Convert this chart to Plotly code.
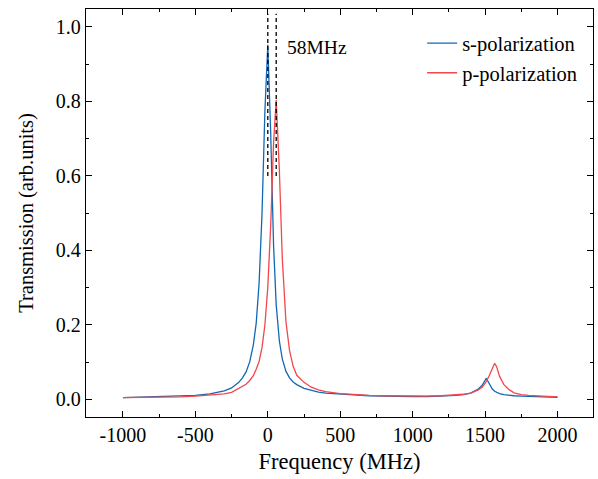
import plotly.graph_objects as go

freq = [-1000, -900, -800, -700, -600, -500, -400, -350, -300, -250, -200, -175, -150, -125,
        -100, -80, -60, -40, -20, 0, 20, 40, 58, 80, 100, 125, 150, 175, 200, 250, 300, 350,
        400, 500, 600, 700, 800, 900, 1000, 1100, 1200, 1300, 1350, 1400, 1450, 1480, 1508,
        1530, 1550, 1566, 1580, 1600, 1630, 1660, 1700, 1750, 1800, 1900, 2000]

s_pol = [0.005, 0.006, 0.006, 0.007, 0.008, 0.011, 0.015, 0.018, 0.023, 0.031, 0.046, 0.058,
         0.074, 0.101, 0.146, 0.205, 0.312, 0.498, 0.774, 0.952, 0.716, 0.412, 0.254, 0.157,
         0.109, 0.076, 0.058, 0.047, 0.040, 0.030, 0.024, 0.020, 0.017, 0.014, 0.011, 0.010,
         0.009, 0.008, 0.008, 0.008, 0.009, 0.011, 0.013, 0.017, 0.027, 0.038, 0.057, 0.040,
         0.028, 0.022, 0.019, 0.016, 0.013, 0.011, 0.010, 0.009, 0.008, 0.007, 0.006]

p_pol = [0.005, 0.005, 0.006, 0.006, 0.007, 0.009, 0.011, 0.013, 0.015, 0.019, 0.029, 0.034,
         0.041, 0.051, 0.064, 0.081, 0.102, 0.139, 0.200, 0.301, 0.467, 0.690, 0.804, 0.614,
         0.380, 0.210, 0.132, 0.089, 0.065, 0.046, 0.033, 0.026, 0.021, 0.016, 0.013, 0.011,
         0.010, 0.009, 0.009, 0.009, 0.010, 0.012, 0.014, 0.017, 0.025, 0.033, 0.048, 0.065,
         0.083, 0.097, 0.088, 0.062, 0.040, 0.028, 0.018, 0.013, 0.011, 0.008, 0.007]

x_ticks = [-1000, -500, 0, 500, 1000, 1500, 2000]
x_tick_labels = ["-1000", "-500", "0", "500", "1000", "1500", "2000"]
y_ticks = [0.0, 0.2, 0.4, 0.6, 0.8, 1.0]
y_tick_labels = ["0.0", "0.2", "0.4", "0.6", "0.8", "1.0"]
marker_freqs = [0, 58]
split_label = "58MHz"

BLUE = "#1268b4"
RED = "#f2474c"
FONT = "Liberation Serif, Times New Roman, serif"

fig = go.Figure()
fig.add_trace(go.Scatter(x=freq, y=s_pol, mode="lines", name="s-polarization",
                         line=dict(color=BLUE, width=1.3)))
fig.add_trace(go.Scatter(x=freq, y=p_pol, mode="lines", name="p-polarization",
                         line=dict(color=RED, width=1.3)))

for f in marker_freqs:
    fig.add_shape(type="line", x0=f, x1=f, y0=0.6, y1=1.035, xref="x", yref="y",
                  line=dict(color="black", width=1.3, dash="4px,3px"))

fig.add_annotation(x=58, y=0.945, xref="x", yref="y", text=split_label, showarrow=False,
                   xanchor="left", xshift=9, font=dict(family=FONT, size=19.5, color="black"))

axis_common = dict(showline=True, linecolor="black", linewidth=1.3, mirror="allticks",
                   ticks="inside", ticklen=6, tickwidth=1.3, tickcolor="black",
                   showgrid=False, zeroline=False, automargin=False,
                   tickfont=dict(family=FONT, size=20, color="black"))

fig.update_xaxes(range=[-1255, 2245], tickvals=x_ticks, ticktext=x_tick_labels,
                 title=dict(text="Frequency (MHz)", font=dict(family=FONT, size=22.5, color="black"),
                            standoff=8),
                 minor=dict(ticks="inside", ticklen=3, tickwidth=1.3, tickcolor="black", dtick=250,
                            tick0=-1000),
                 **axis_common)
fig.update_yaxes(range=[-0.047, 1.048], tickvals=y_ticks, ticktext=y_tick_labels,
                 title=dict(text="Transmission (arb.units)",
                            font=dict(family=FONT, size=20.5, color="black"), standoff=16),
                 minor=dict(ticks="inside", ticklen=3, tickwidth=1.3, tickcolor="black", dtick=0.1,
                            tick0=0),
                 **axis_common)

fig.update_layout(
    width=598, height=479,
    margin=dict(l=86, r=5, t=9, b=62),
    paper_bgcolor="white", plot_bgcolor="white",
    font=dict(family=FONT, size=20, color="black"),
    showlegend=True,
    legend=dict(x=0.663, y=0.965, xanchor="left", yanchor="top", bgcolor="rgba(0,0,0,0)",
                font=dict(family=FONT, size=20.5, color="black"), tracegroupgap=0,
                itemwidth=30),
)

fig.write_html("out.html", config={"responsive": False, "displayModeBar": False},
               post_script="document.body.style.margin='0';document.body.style.overflow='hidden';")
